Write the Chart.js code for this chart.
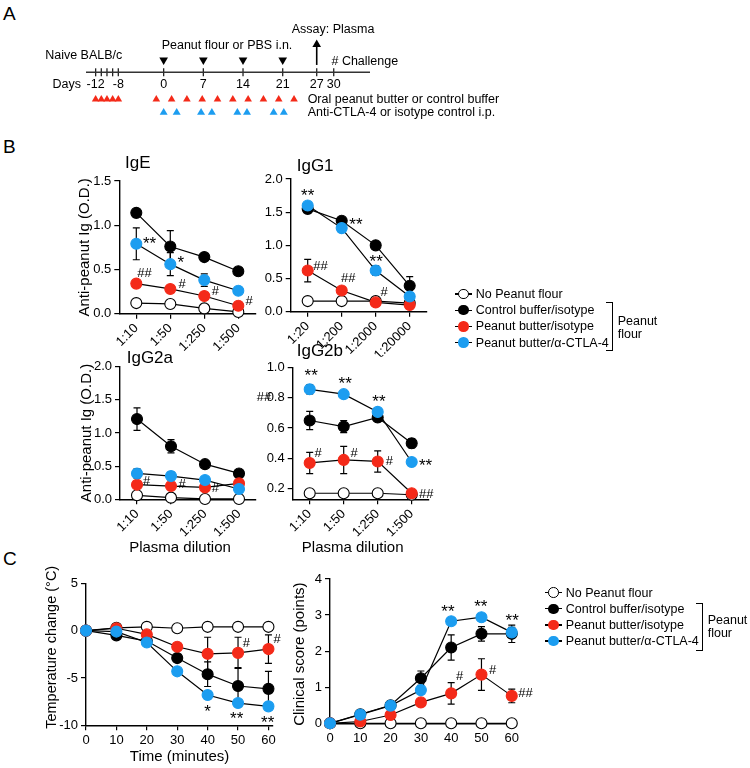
<!DOCTYPE html>
<html lang="en">
<head>
<meta charset="utf-8">
<title>Peanut flour sensitisation figure</title>
<script src="https://cdn.jsdelivr.net/npm/chart.js@4.4.1/dist/chart.umd.min.js"></script>
<style>
  html, body { margin: 0; background: #fff; }
  #fig { position: relative; width: 750px; height: 768px; overflow: hidden;
         font-family: "Liberation Sans", Arial, Helvetica, sans-serif; color: #000; }
  #fig canvas { position: absolute; left: 0; top: 0; }
  .letter { position: absolute; left: 3px; font-size: 19px; line-height: 19px; }
  .abs { position: absolute; }
  .legtext { position: absolute; font-size: 12.5px; line-height: 16px; white-space: nowrap; }
</style>
</head>
<body>
<div id="fig">
  <div class="letter" style="top:4px">A</div>
  <div class="letter" style="top:137px">B</div>
  <div class="letter" style="top:549px">C</div>
  <canvas id="timeline" width="750" height="768"></canvas>
  <canvas id="ige" width="750" height="768"></canvas>
  <canvas id="igg1" width="750" height="768"></canvas>
  <canvas id="igg2a" width="750" height="768"></canvas>
  <canvas id="igg2b" width="750" height="768"></canvas>
  <canvas id="temp" width="750" height="768"></canvas>
  <canvas id="score" width="750" height="768"></canvas>
</div>
<script>
// ---- panel A: protocol timeline (days) ----
const tlTickDays = [-12, -11, -10, -9, -8, 0, 7, 14, 21, 27, 30];
const tlLabelDays = [-12, -8, 0, 7, 14, 21, 27, 30];
const intranasalDays = [0, 7, 14, 21];
const oralDays = [-12, -11, -10, -9, -8, -1.3, 1.4, 4.1, 6.8, 9.5, 12.2, 14.9, 17.6, 20.3, 23];
const antibodyDays = [0, 2.3, 6.6, 8.5, 13, 14.7, 19.4, 21.2];
const assayDay = 27;
const tlFrom = -13.7, tlTo = 36.4;

// ---- groups ----
const groups = ['No Peanut flour', 'Control buffer/isotype', 'Peanut butter/isotype', 'Peanut butter/\u03b1-CTLA-4'];
const groupColors = ['#ffffff', '#000000', '#f42a19', '#1c9df0'];

// ---- panel B: anti-peanut Ig (O.D.) ----
const dilIgE = ['1:10', '1:50', '1:250', '1:500'];
const dilIgG1 = ['1:20', '1:200', '1:2000', '1:20000'];
const dilIgG2 = ['1:10', '1:50', '1:250', '1:500'];

const igeNone = [0.12, 0.11, 0.06, 0.02];
const igeCtrl = [1.14, 0.76, 0.64, 0.48];
const igeIso = [0.34, 0.28, 0.20, 0.09];
const igeCtla = [0.79, 0.56, 0.38, 0.26];
const igeCtrlErr = [0, 0.18, 0, 0];
const igeIsoErr = [0, 0, 0.03, 0];
const igeCtlaErr = [0.18, 0.13, 0.07, 0];

const g1None = [0.16, 0.16, 0.16, 0.13];
const g1Ctrl = [1.55, 1.37, 1.00, 0.39];
const g1Iso = [0.62, 0.32, 0.14, 0.10];
const g1Ctla = [1.60, 1.26, 0.62, 0.23];
const g1CtrlErr = [0.04, 0.05, 0, 0.14];
const g1IsoErr = [0.17, 0.04, 0, 0];
const g1CtlaErr = [0, 0, 0.07, 0];

const g2aNone = [0.06, 0.025, 0.005, 0.005];
const g2aCtrl = [1.21, 0.80, 0.53, 0.39];
const g2aIso = [0.22, 0.20, 0.18, 0.24];
const g2aCtla = [0.39, 0.35, 0.29, 0.155];
const g2aCtrlErr = [0.17, 0.10, 0.03, 0.03];
const g2aCtlaErr = [0.07, 0.06, 0.04, 0];

const g2bNone = [0.17, 0.17, 0.17, 0.16];
const g2bCtrl = [0.65, 0.61, 0.67, 0.50];
const g2bIso = [0.37, 0.39, 0.38, 0.17];
const g2bCtla = [0.856, 0.824, 0.707, 0.376];
const g2bCtrlErr = [0.06, 0.04, 0.02, 0.03];
const g2bIsoErr = [0.07, 0.09, 0.07, 0];
const g2bCtlaErr = [0.03, 0, 0, 0];

// ---- panel C: challenge ----
const minutes = [0, 10, 20, 30, 40, 50, 60];
const tempNone = [0, 0.3, 0.4, 0.25, 0.4, 0.4, 0.4];
const tempCtrl = [0, -0.5, -1.1, -2.9, -4.6, -5.85, -6.15];
const tempIso = [0, 0.25, -0.4, -1.7, -2.45, -2.35, -1.95];
const tempCtla = [0, -0.1, -1.25, -4.3, -6.8, -7.65, -8.0];
const tempCtrlErr = [0, 0, 0, 0.3, 1.3, 1.95, 1.85];
const tempIsoErr = [0, 0, 0, 0, 1.75, 1.65, 1.5];
const tempCtlaErr = [0, 0, 0, 0, 0.3, 0.3, 0.2];

const scoreNone = [0, 0, 0, 0, 0, 0, 0];
const scoreCtrl = [0, 0.25, 0.5, 1.25, 2.1, 2.48, 2.48];
const scoreIso = [0, 0.05, 0.23, 0.58, 0.83, 1.35, 0.76];
const scoreCtla = [0, 0.24, 0.49, 0.92, 2.83, 2.94, 2.52];
const scoreCtrlErr = [0, 0, 0.05, 0.2, 0.35, 0.2, 0.24];
const scoreIsoErr = [0, 0, 0, 0, 0.3, 0.44, 0.19];
const scoreCtlaErr = [0, 0, 0, 0, 0, 0, 0.14];

const FONT = '"Liberation Sans", Arial, Helvetica, sans-serif';
Chart.defaults.font.family = FONT;
Chart.defaults.color = '#000';

// error bars go under the markers
const errorBars = {
  id: 'errorBars',
  beforeDatasetsDraw(chart) {
    const ctx = chart.ctx, ys = chart.scales.y;
    ctx.save();
    ctx.strokeStyle = '#000';
    ctx.lineWidth = 1.2;
    chart.data.datasets.forEach((ds, di) => {
      if (!ds.err) return;
      chart.getDatasetMeta(di).data.forEach((pt, i) => {
        const e = ds.err[i];
        if (!e) return;
        const v = ds.data[i].y;
        const top = ys.getPixelForValue(v + e), bot = ys.getPixelForValue(v - e);
        ctx.beginPath();
        ctx.moveTo(pt.x, top); ctx.lineTo(pt.x, bot);
        ctx.moveTo(pt.x - 3.5, top); ctx.lineTo(pt.x + 3.5, top);
        ctx.moveTo(pt.x - 3.5, bot); ctx.lineTo(pt.x + 3.5, bot);
        ctx.stroke();
      });
    });
    ctx.restore();
  }
};

// text placed either on a data point (ds, i) or at data coords (x, y), plus a pixel nudge
function textMarks(items) {
  return {
    id: 'textMarks',
    afterDraw(chart) {
      const ctx = chart.ctx;
      items.forEach(it => {
        let px, py;
        if (it.ds !== undefined) {
          const pt = chart.getDatasetMeta(it.ds).data[it.i];
          px = pt.x; py = pt.y;
        } else {
          px = chart.scales.x.getPixelForValue(it.x);
          py = chart.scales.y.getPixelForValue(it.y);
        }
        px += it.dx || 0;
        py += it.dy || 0;
        const star = it.t.includes('*');
        const size = it.size || (star ? 17 : 13);
        if (star) py += size * 0.23;  // asterisks sit high in the em box
        ctx.save();
        ctx.font = size + 'px ' + FONT;
        ctx.fillStyle = '#000';
        ctx.textAlign = it.align || 'left';
        ctx.textBaseline = 'middle';
        ctx.translate(px, py);
        if (it.rot) ctx.rotate(it.rot);
        ctx.fillText(it.t, 0, 0);
        ctx.restore();
      });
    }
  };
}

// ---------- panel A ----------
const A_FONT = 12.5;
const tlText = [
  { t: 'Naive BALB/c', x: -20.9, y: 1.24 },
  { t: 'Peanut flour or PBS i.n.', x: -0.35, y: 2.0 },
  { t: 'Assay: Plasma', x: 22.6, y: 3.21 },
  { t: '# Challenge', x: 29.6, y: 0.84 },
  { t: 'Days', x: -19.6, y: -0.88 },
  { t: 'Oral peanut butter or control buffer', x: 25.4, y: -2 },
  { t: 'Anti-CTLA-4 or isotype control i.p.', x: 25.4, y: -3 }
].concat(tlLabelDays.map(d => ({ t: String(d), x: d, y: -0.9, align: 'center' })))
 .map(it => Object.assign({ size: A_FONT }, it));

new Chart(document.getElementById('timeline'), {
  type: 'scatter',
  data: {
    datasets: [
      { data: [{ x: tlFrom, y: 0 }, { x: tlTo, y: 0 }], showLine: true, borderColor: '#333',
        borderWidth: 1.5, pointRadius: 0 },
      { data: tlTickDays.map(d => ({ x: d, y: 0 })), pointStyle: 'line', pointRotation: 90,
        pointRadius: 4, pointBorderColor: '#222', pointBorderWidth: 1.3 },
      { data: intranasalDays.map(d => ({ x: d, y: 0.91 })), pointStyle: 'triangle', pointRotation: 180,
        pointRadius: 5, pointBackgroundColor: '#000', pointBorderColor: '#000', pointBorderWidth: 0 },
      { data: [{ x: assayDay, y: 0.55 }, { x: assayDay, y: 2.0 }], showLine: true, borderColor: '#000',
        borderWidth: 1.6, pointRadius: 0 },
      { data: [{ x: assayDay, y: 2.07 }], pointStyle: 'triangle', pointRadius: 5,
        pointBackgroundColor: '#000', pointBorderColor: '#000', pointBorderWidth: 0 },
      { data: oralDays.map(d => ({ x: d, y: -2.02 })), pointStyle: 'triangle', pointRadius: 4.4,
        pointBackgroundColor: groupColors[2], pointBorderColor: groupColors[2], pointBorderWidth: 0 },
      { data: antibodyDays.map(d => ({ x: d, y: -3 })), pointStyle: 'triangle', pointRadius: 4.6,
        pointBackgroundColor: groupColors[3], pointBorderColor: groupColors[3], pointBorderWidth: 0 }
    ].map(d => Object.assign({ clip: false }, d))
  },
  options: {
    responsive: false, animation: false, events: [],
    layout: { padding: { left: 86, right: 380, top: 0, bottom: 643 } },
    scales: {
      x: { type: 'linear', display: false, min: tlFrom, max: tlTo },
      y: { type: 'linear', display: false, min: -3.93, max: 5 }
    },
    plugins: { legend: { display: false }, tooltip: { enabled: false } }
  },
  plugins: [textMarks(tlText)]
});

// ---------- line panels ----------
function plotPanel(id, area, cfg) {
  const yW = 40, xH = cfg.xH;
  const tickFont = { size: 13, family: FONT };
  const axisLine = { color: '#000', width: 1.4 };
  const grid = { drawOnChartArea: false, color: '#000', lineWidth: 1.2, tickLength: 5 };
  const cats = cfg.cats;
  const xScale = {
    type: 'linear', min: cfg.xMin, max: cfg.xMax,
    afterBuildTicks: s => { s.ticks = cfg.xTicks.map(v => ({ value: v })); },
    afterFit: s => { s.height = xH; s.paddingLeft = 0; s.paddingRight = 0; },
    ticks: {
      autoSkip: false, font: tickFont, color: '#000', padding: 2,
      maxRotation: cats ? 45 : 0, minRotation: cats ? 45 : 0,
      callback: v => cats ? cats[v] : String(v)
    },
    grid: grid, border: axisLine
  };
  const yScale = {
    type: 'linear', min: cfg.yMin, max: cfg.yMax,
    afterBuildTicks: s => { s.ticks = cfg.yTicks.map(v => ({ value: v })); },
    afterFit: s => { s.width = yW; s.paddingTop = 0; s.paddingBottom = 0; },
    ticks: { font: tickFont, color: '#000', padding: 3, callback: cfg.yFmt },
    grid: grid, border: axisLine
  };
  return new Chart(document.getElementById(id), {
    type: 'line',
    data: {
      datasets: cfg.series.map((vals, k) => ({
        label: groups[k],
        data: vals.map((v, i) => ({ x: cfg.xs[i], y: v })),
        err: cfg.errs[k],
        borderColor: '#000', borderWidth: 1.2, tension: 0,
        pointRadius: 5.5, pointBackgroundColor: groupColors[k],
        pointBorderColor: k === 0 ? '#000' : groupColors[k], pointBorderWidth: 1.1,
        order: 4 - k, clip: false
      }))
    },
    options: {
      responsive: false, animation: false, events: [],
      layout: { padding: { left: area.l - yW, top: area.t, right: 750 - area.r, bottom: 768 - area.b - xH } },
      scales: { x: xScale, y: yScale },
      plugins: { legend: { display: false }, tooltip: { enabled: false } }
    },
    plugins: [errorBars, textMarks(cfg.text)]
  });
}

const idx4 = [0, 1, 2, 3];
const fmt1 = v => v.toFixed(1);
const yTitleB = 'Anti-peanut Ig (O.D.)';
const ROT = -Math.PI / 2;

plotPanel('ige', { l: 119.3, r: 255.3, t: 181, b: 313.7 }, {
  xs: idx4, cats: dilIgE, xMin: -0.5, xMax: 3.5, xTicks: idx4, xH: 45,
  yMin: 0, yMax: 1.5, yTicks: [0, 0.5, 1.0, 1.5], yFmt: fmt1,
  series: [igeNone, igeCtrl, igeIso, igeCtla], errs: [null, igeCtrlErr, igeIsoErr, igeCtlaErr],
  text: [
    { t: 'IgE', x: -0.5, y: 1.5, dx: 5.7, dy: -17.7, size: 17 },
    { t: yTitleB, x: -0.5, y: 0.75, dx: -34.3, rot: ROT, align: 'center', size: 15 },
    { ds: 3, i: 0, t: '**', dx: 6.6, dy: -3.7 },
    { ds: 3, i: 1, t: '*', dx: 7.3, dy: -4.3 },
    { ds: 2, i: 0, t: '##', dx: 1, dy: -9.7 },
    { ds: 2, i: 1, t: '#', dx: 8.3, dy: -4.7 },
    { ds: 2, i: 2, t: '#', dx: 7.4, dy: -4.3 },
    { ds: 2, i: 3, t: '#', dx: 7.3, dy: -4.3 }
  ]
});

plotPanel('igg1', { l: 290.7, r: 426.7, t: 179, b: 311.7 }, {
  xs: idx4, cats: dilIgG1, xMin: -0.5, xMax: 3.5, xTicks: idx4, xH: 45,
  yMin: 0, yMax: 2, yTicks: [0, 0.5, 1.0, 1.5, 2.0], yFmt: fmt1,
  series: [g1None, g1Ctrl, g1Iso, g1Ctla], errs: [null, g1CtrlErr, g1IsoErr, g1CtlaErr],
  text: [
    { t: 'IgG1', x: -0.5, y: 2, dx: 6, dy: -12.3, size: 17 },
    { ds: 3, i: 0, t: '**', dx: 0, dy: -13.6, align: 'center' },
    { ds: 1, i: 1, t: '**', dx: 7.6, dy: 0.8 },
    { ds: 3, i: 2, t: '**', dx: 0.5, dy: -12.3, align: 'center' },
    { ds: 2, i: 0, t: '##', dx: 5.6, dy: -4.6 },
    { ds: 2, i: 1, t: '##', dx: 6.6, dy: -12.2, align: 'center' },
    { ds: 2, i: 2, t: '#', dx: 4.7, dy: -10.4 }
  ]
});

plotPanel('igg2a', { l: 120, r: 256, t: 366.7, b: 499.3 }, {
  xs: idx4, cats: dilIgG2, xMin: -0.5, xMax: 3.5, xTicks: idx4, xH: 45,
  yMin: 0, yMax: 2, yTicks: [0, 0.5, 1.0, 1.5, 2.0], yFmt: fmt1,
  series: [g2aNone, g2aCtrl, g2aIso, g2aCtla], errs: [null, g2aCtrlErr, null, g2aCtlaErr],
  text: [
    { t: 'IgG2a', x: -0.5, y: 2, dx: 6.7, dy: -8.4, size: 17 },
    { t: yTitleB, x: -0.5, y: 1, dx: -33.3, rot: ROT, align: 'center', size: 15 },
    { t: 'Plasma dilution', x: 1.5, y: 0, dx: -8, dy: 48.7, align: 'center', size: 15 },
    { ds: 2, i: 0, t: '#', dx: 6, dy: -3 },
    { ds: 2, i: 1, t: '#', dx: 7.6, dy: -1.7 },
    { ds: 2, i: 2, t: '#', dx: 6.7, dy: 1.3 }
  ]
});

plotPanel('igg2b', { l: 292.7, r: 428.7, t: 367.5, b: 499.3 }, {
  xs: idx4, cats: dilIgG2, xMin: -0.5, xMax: 3.5, xTicks: idx4, xH: 45,
  yMin: 0.13, yMax: 1, yTicks: [0.2, 0.4, 0.6, 0.8, 1.0], yFmt: fmt1,
  series: [g2bNone, g2bCtrl, g2bIso, g2bCtla], errs: [null, g2bCtrlErr, g2bIsoErr, g2bCtlaErr],
  text: [
    { t: 'IgG2b', x: -0.5, y: 1, dx: 4, dy: -15.8, size: 17 },
    { t: 'Plasma dilution', x: 1.5, y: 0.13, dx: -8, dy: 48.7, align: 'center', size: 15 },
    { t: '##', x: -0.5, y: 0.8, dx: -36, dy: 0 },
    { ds: 3, i: 0, t: '**', dx: 1.5, dy: -17, align: 'center' },
    { ds: 3, i: 1, t: '**', dx: 1.5, dy: -13.3, align: 'center' },
    { ds: 3, i: 2, t: '**', dx: 1.2, dy: -13.4, align: 'center' },
    { ds: 3, i: 3, t: '**', dx: 7.3, dy: 0 },
    { ds: 2, i: 0, t: '#', dx: 4.7, dy: -9.6 },
    { ds: 2, i: 1, t: '#', dx: 6.7, dy: -6.3 },
    { ds: 2, i: 2, t: '#', dx: 8, dy: 0 },
    { ds: 2, i: 3, t: '##', dx: 7.3, dy: 1 }
  ]
});

plotPanel('temp', { l: 86, r: 273, t: 583.3, b: 725.3 }, {
  xs: minutes, cats: null, xMin: 0, xMax: 61.5, xTicks: minutes, xH: 25,
  yMin: -10, yMax: 5, yTicks: [-10, -5, 0, 5], yFmt: v => String(v),
  series: [tempNone, tempCtrl, tempIso, tempCtla], errs: [null, tempCtrlErr, tempIsoErr, tempCtlaErr],
  text: [
    { t: 'Temperature change (\u00b0C)', x: 0, y: -2.5, dx: -34.3, dy: -7, rot: ROT, align: 'center', size: 14.5 },
    { t: 'Time (minutes)', x: 30.75, y: -10, dx: 0, dy: 31.4, align: 'center', size: 15 },
    { ds: 2, i: 5, t: '#', dx: 4.7, dy: -9.3 },
    { ds: 2, i: 6, t: '#', dx: 5, dy: -9.7 },
    { ds: 3, i: 4, t: '*', dx: 0, dy: 13.3, align: 'center' },
    { ds: 3, i: 5, t: '**', dx: -1.3, dy: 12.7, align: 'center' },
    { ds: 3, i: 6, t: '**', dx: -0.7, dy: 13.3, align: 'center' }
  ]
});

plotPanel('score', { l: 330, r: 516.3, t: 579, b: 723.3 }, {
  xs: minutes, cats: null, xMin: 0, xMax: 61.5, xTicks: minutes, xH: 25,
  yMin: 0, yMax: 4, yTicks: [0, 1, 2, 3, 4], yFmt: v => String(v),
  series: [scoreNone, scoreCtrl, scoreIso, scoreCtla], errs: [null, scoreCtrlErr, scoreIsoErr, scoreCtlaErr],
  text: [
    { t: 'Clinical score (points)', x: 0, y: 2, dx: -30, dy: 3, rot: ROT, align: 'center', size: 15 },
    { ds: 3, i: 4, t: '**', dx: -3.2, dy: -12.7, align: 'center' },
    { ds: 3, i: 5, t: '**', dx: -0.7, dy: -14, align: 'center' },
    { ds: 3, i: 6, t: '**', dx: 0.4, dy: -15, align: 'center' },
    { ds: 2, i: 4, t: '#', dx: 4.8, dy: -16.6 },
    { ds: 2, i: 5, t: '#', dx: 7.5, dy: -4 },
    { ds: 2, i: 6, t: '##', dx: 6.5, dy: -2 }
  ]
});

// ---------- legends (HTML) ----------
const fig = document.getElementById('fig');
function add(cls, css, text) {
  const el = document.createElement('div');
  el.className = cls;
  Object.assign(el.style, css);
  if (text) el.textContent = text;
  fig.appendChild(el);
  return el;
}
function px(v) { return v + 'px'; }
function legend(markX, rows, br) {
  groups.forEach((name, k) => {
    const y = rows[k];
    add('abs', { left: px(markX - 8.5), top: px(y - 0.7), width: '17px', height: '1.4px', background: '#000' });
    add('abs', { left: px(markX - 5.25), top: px(y - 5.25), width: '10.5px', height: '10.5px',
      borderRadius: '50%', background: groupColors[k], boxSizing: 'border-box',
      border: k === 0 ? '1.2px solid #000' : 'none' });
    add('legtext', { left: px(markX + 12.5), top: px(y - 8) }, name);
  });
  add('abs', { left: px(br.x - 6.5), top: px(br.top), width: '6px', height: px(br.bottom - br.top),
    borderTop: '1.3px solid #000', borderRight: '1.3px solid #000', borderBottom: '1.3px solid #000' });
  add('legtext', { left: px(br.x + 5), top: px(br.textY - 8) }, 'Peanut');
  add('legtext', { left: px(br.x + 5), top: px(br.textY + 5) }, 'flour');
}
legend(463.3, [294, 310.2, 326.4, 342.6], { x: 612.7, top: 302, bottom: 349.3, textY: 321 });
legend(553.3, [592.7, 608.8, 624.9, 641], { x: 702.7, top: 602.7, bottom: 649, textY: 620 });
</script>
</body>
</html>
